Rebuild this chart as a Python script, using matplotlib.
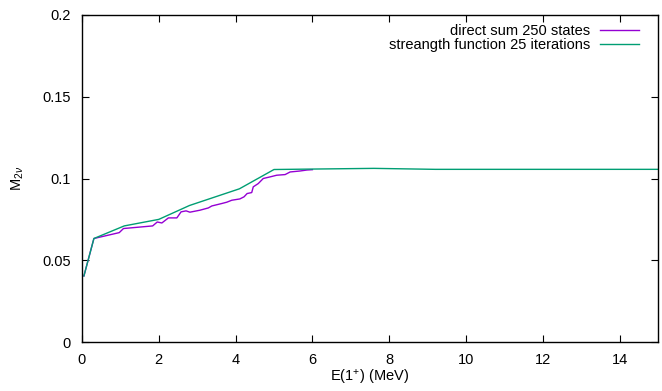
import matplotlib
matplotlib.use("Agg")
import matplotlib.pyplot as plt

plt.rcParams["font.family"] = ["Liberation Sans", "DejaVu Sans"]
plt.rcParams["mathtext.fontset"] = "custom"
plt.rcParams["mathtext.rm"] = "Liberation Sans"
plt.rcParams["mathtext.it"] = "Liberation Sans:italic"

# direct sum over 250 states (cumulative M_2v vs excitation energy)
direct_E = [0.05, 0.31, 0.97, 1.08, 1.84, 1.96, 2.08, 2.25, 2.47, 2.58, 2.71, 2.81,
            3.07, 3.29, 3.38, 3.64, 3.77, 3.90, 4.11, 4.22, 4.30, 4.42, 4.46, 4.59,
            4.72, 4.90, 5.07, 5.29, 5.42, 5.68, 5.86, 6.00]
direct_M = [0.0404, 0.0633, 0.0669, 0.0694, 0.0710, 0.0734, 0.0728, 0.0759, 0.0759,
            0.0796, 0.0802, 0.0794, 0.0806, 0.0820, 0.0832, 0.0847, 0.0855, 0.0867,
            0.0875, 0.0888, 0.0908, 0.0914, 0.0949, 0.0969, 0.1000, 0.1010, 0.1020,
            0.1024, 0.1040, 0.1046, 0.1052, 0.1054]

# strength function method, 25 iterations
strength_E = [0.05, 0.31, 1.10, 2.00, 2.80, 4.10, 5.00, 7.60, 9.20, 15.0]
strength_M = [0.0404, 0.0633, 0.0710, 0.0750, 0.0835, 0.0937, 0.1055, 0.1062,
              0.1056, 0.1056]

FS = 10.5

fig = plt.figure(figsize=(6.62, 3.91), dpi=100)
ax = fig.add_axes([82 / 662, 1 - 342 / 391, 576 / 662, 327 / 391])

ax.plot(direct_E, direct_M, color="#9400D3", lw=1.0, label="direct sum 250 states")
ax.plot(strength_E, strength_M, color="#009E73", lw=1.0,
        label="streangth function 25 iterations")

ax.set_xlim(0, 15)
ax.set_ylim(0, 0.2)
ax.set_xticks(range(0, 15, 2))
ax.set_yticks([0, 0.05, 0.1, 0.15, 0.2])
ax.set_yticklabels(["0", "0.05", "0.1", "0.15", "0.2"])
ax.tick_params(direction="in", top=True, right=True, labelsize=FS, length=5,
               width=0.8)
ax.tick_params(axis="x", pad=8)
ax.tick_params(axis="y", pad=8)
for s in ax.spines.values():
    s.set_linewidth(1.0)

ax.set_xlabel("E(1$^{+}$) (MeV)", fontsize=FS, labelpad=1)
ax.set_ylabel(r"M$_{2\nu}$", fontsize=FS, labelpad=12)

ax.legend(loc="upper right", bbox_to_anchor=(0.983, 1.0), frameon=False,
          markerfirst=False, fontsize=FS, handlelength=2.7, handletextpad=0.7,
          labelspacing=0.05, borderaxespad=0.3, borderpad=0.3)

fig.savefig("out.png", dpi=100)
